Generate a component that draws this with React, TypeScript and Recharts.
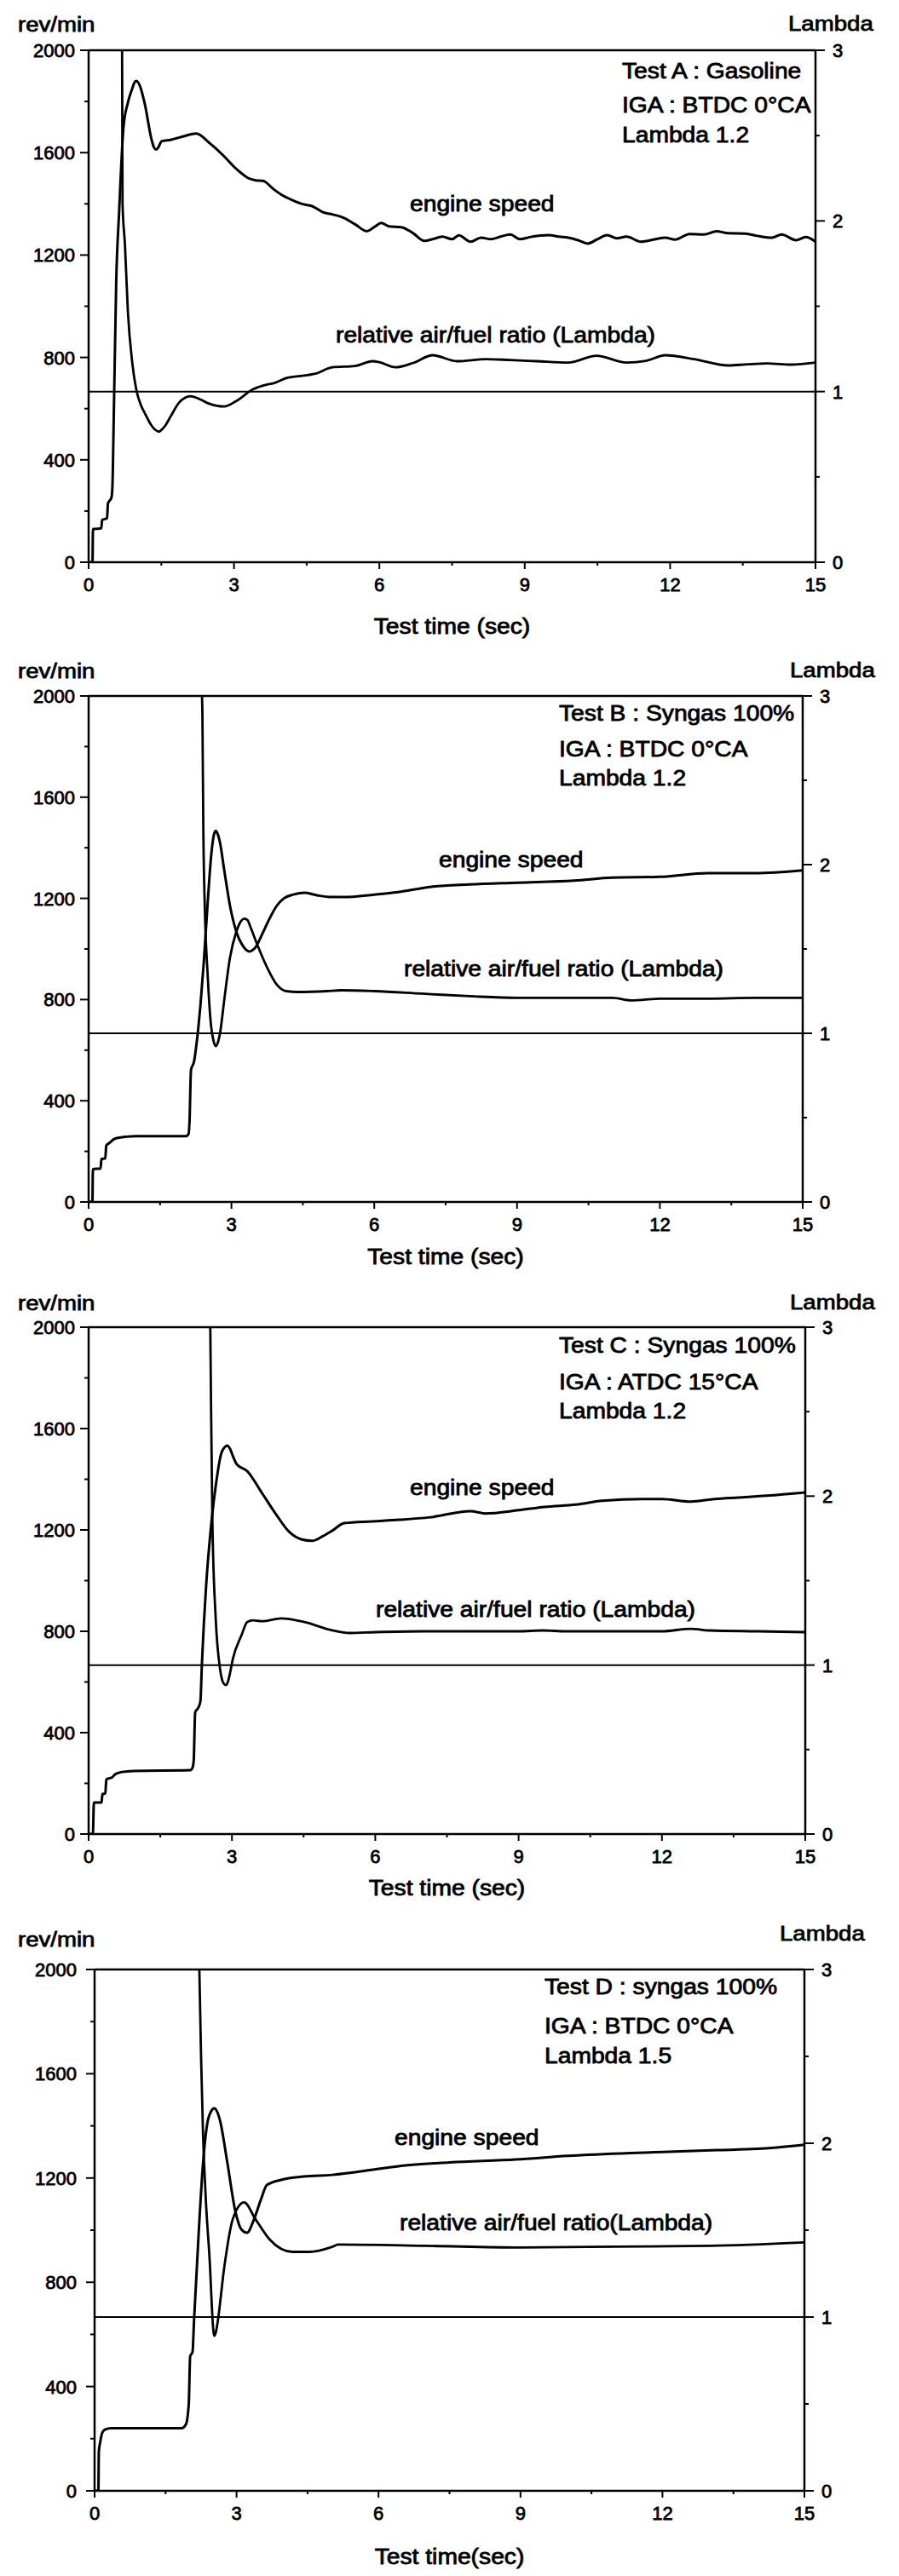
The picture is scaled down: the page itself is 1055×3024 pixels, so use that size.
import React from "react";
import { LineChart, Line, XAxis, YAxis, ReferenceLine } from "recharts";

type Pt = [number, number];

// axis ticks (major + minor)
const timeTicks = [0, 1.5, 3, 4.5, 6, 7.5, 9, 10.5, 12, 13.5, 15];
const rpmTicks = [0, 200, 400, 600, 800, 1000, 1200, 1400, 1600, 1800, 2000];
const lambdaTicks = [0, 0.5, 1, 1.5, 2, 2.5, 3];

// Test A : gasoline  [time (s), value]
const speedA: Pt[] = [
  [0, 0], [0.08, 0], [0.09, 130], [0.26, 132], [0.28, 165], [0.38, 172], [0.4, 230], [0.47, 252],
  [0.49, 290], [0.52, 580], [0.57, 1100], [0.63, 1370], [0.72, 1700], [0.81, 1795], [0.9, 1850],
  [0.94, 1872], [0.98, 1880], [1.02, 1875], [1.06, 1860], [1.16, 1790], [1.3, 1650], [1.35, 1620],
  [1.39, 1612], [1.43, 1618], [1.51, 1645], [1.69, 1650], [1.98, 1665], [2.22, 1675], [2.51, 1635],
  [2.8, 1585], [3.0, 1545], [3.15, 1520], [3.3, 1500], [3.45, 1492], [3.6, 1490], [3.8, 1460],
  [3.97, 1437], [4.2, 1415], [4.44, 1398], [4.6, 1392], [4.85, 1366], [5.0, 1360], [5.27, 1345],
  [5.5, 1320], [5.74, 1293], [5.9, 1310], [6.04, 1325], [6.2, 1312], [6.45, 1309], [6.7, 1285],
  [6.93, 1255], [7.1, 1262], [7.3, 1272], [7.5, 1262], [7.64, 1277], [7.88, 1252], [8.1, 1268],
  [8.3, 1262], [8.5, 1272], [8.7, 1280], [8.9, 1262], [9.1, 1270], [9.5, 1278], [9.7, 1272],
  [9.9, 1268], [10.1, 1258], [10.3, 1245], [10.5, 1262], [10.7, 1278], [10.9, 1265], [11.1, 1272],
  [11.4, 1252], [11.7, 1262], [11.9, 1268], [12.1, 1260], [12.4, 1282], [12.7, 1280], [12.96, 1293],
  [13.2, 1285], [13.55, 1284], [13.8, 1275], [14.1, 1268], [14.3, 1280], [14.6, 1258], [14.8, 1270],
  [15, 1252],
];
const lambdaA: Pt[] = [
  [0.62, 3.6], [0.69, 3.05], [0.7, 2.1], [0.75, 1.86], [0.81, 1.47], [0.9, 1.17], [0.985, 1.01],
  [1.08, 0.92], [1.16, 0.873], [1.3, 0.8], [1.38, 0.775], [1.45, 0.765], [1.52, 0.78], [1.58, 0.8],
  [1.69, 0.853], [1.86, 0.933], [2.1, 0.973], [2.3, 0.955], [2.45, 0.933], [2.8, 0.913], [3.04, 0.943],
  [3.39, 1.013], [3.6, 1.035], [3.86, 1.053], [4.09, 1.08], [4.33, 1.09], [4.68, 1.105], [5.03, 1.142],
  [5.5, 1.15], [5.86, 1.178], [6.0, 1.172], [6.33, 1.142], [6.7, 1.168], [7.1, 1.213], [7.6, 1.178],
  [8.2, 1.19], [8.7, 1.185], [9.25, 1.178], [9.9, 1.17], [10.48, 1.21], [11.1, 1.17], [11.5, 1.18],
  [11.9, 1.213], [12.5, 1.19], [13.2, 1.153], [13.6, 1.16], [14.0, 1.165], [14.5, 1.158], [15, 1.17],
];

// Test B : syngas 100%, BTDC 0
const speedB: Pt[] = [
  [0, 0], [0.08, 0], [0.09, 130], [0.25, 132], [0.27, 170], [0.35, 172], [0.37, 222], [0.45, 235],
  [0.55, 250], [0.8, 258], [1.0, 260], [2.05, 260], [2.1, 270], [2.12, 320], [2.15, 520], [2.22, 560],
  [2.25, 600], [2.3, 680], [2.35, 780], [2.42, 950], [2.5, 1180], [2.58, 1380], [2.63, 1450],
  [2.67, 1467], [2.71, 1455], [2.76, 1420], [2.85, 1310], [2.97, 1170], [3.1, 1070], [3.25, 1010],
  [3.32, 995], [3.38, 990], [3.44, 995], [3.5, 1005], [3.65, 1060], [3.8, 1120], [3.95, 1170],
  [4.1, 1200], [4.3, 1215], [4.55, 1222], [4.8, 1212], [5.1, 1205], [5.37, 1205], [6.0, 1215],
  [6.5, 1225], [7.2, 1246], [8.0, 1255], [9.0, 1262], [10.2, 1270], [11.0, 1282], [12.0, 1285],
  [13.0, 1300], [14.0, 1300], [15, 1311],
];
const lambdaB: Pt[] = [
  [2.37, 3.6], [2.38, 3.05], [2.39, 2.9], [2.41, 2.2], [2.44, 1.75], [2.5, 1.35], [2.57, 1.05],
  [2.62, 0.96], [2.67, 0.924], [2.72, 0.95], [2.76, 1.0], [2.85, 1.2], [2.97, 1.45], [3.1, 1.6],
  [3.2, 1.665], [3.27, 1.68], [3.34, 1.67], [3.4, 1.63], [3.55, 1.52], [3.75, 1.39], [3.95, 1.29],
  [4.15, 1.25], [4.4, 1.245], [5.0, 1.25], [5.3, 1.255], [6.0, 1.25], [7.0, 1.235], [8.0, 1.22],
  [9.0, 1.21], [10.0, 1.21], [11.0, 1.21], [11.4, 1.195], [12.0, 1.205], [13.0, 1.205], [14.0, 1.21],
  [15, 1.21],
];

// Test C : syngas 100%, ATDC 15
const speedC: Pt[] = [
  [0, 0], [0.09, 0], [0.11, 124], [0.27, 124], [0.29, 158], [0.35, 160], [0.37, 215], [0.5, 225],
  [0.55, 235], [0.7, 245], [0.94, 249], [2.13, 252], [2.18, 265], [2.2, 290], [2.23, 480], [2.3, 500],
  [2.34, 524], [2.37, 666], [2.46, 981], [2.55, 1190], [2.66, 1373], [2.78, 1504], [2.84, 1525],
  [2.9, 1533], [2.96, 1520], [3.02, 1491], [3.1, 1459], [3.32, 1432], [3.62, 1348], [3.9, 1268],
  [4.21, 1190], [4.45, 1163], [4.68, 1157], [4.9, 1175], [5.1, 1197], [5.35, 1227], [5.94, 1234],
  [6.5, 1240], [7.15, 1250], [7.99, 1274], [8.3, 1265], [9.0, 1278], [9.55, 1291], [10.2, 1300],
  [10.75, 1315], [11.6, 1322], [12.0, 1322], [12.6, 1312], [13.1, 1322], [13.6, 1328], [14.2, 1335],
  [15, 1348],
];
const lambdaC: Pt[] = [
  [2.5, 3.6], [2.545, 3.05], [2.56, 2.6], [2.59, 1.863], [2.66, 1.276], [2.75, 0.98], [2.81, 0.9],
  [2.87, 0.882], [2.92, 0.905], [2.95, 0.94], [3.02, 1.038], [3.2, 1.177], [3.32, 1.255], [3.44, 1.265],
  [3.62, 1.26], [4.03, 1.276], [4.5, 1.256], [5.1, 1.206], [5.46, 1.19], [6.0, 1.195], [7.0, 1.2],
  [8.0, 1.2], [9.0, 1.2], [9.5, 1.205], [10.0, 1.2], [11.0, 1.2], [12.0, 1.2], [12.6, 1.215],
  [13.0, 1.205], [14.0, 1.2], [15, 1.195],
];

// Test D : syngas 100%, lambda 1.5
const speedD: Pt[] = [
  [0, 0], [0.08, 0], [0.09, 150], [0.12, 188], [0.16, 222], [0.22, 235], [0.35, 240], [1.84, 240],
  [1.93, 255], [1.99, 333], [2.02, 516], [2.07, 533], [2.1, 647], [2.2, 990], [2.29, 1252],
  [2.38, 1408], [2.46, 1455], [2.53, 1467], [2.6, 1450], [2.65, 1421], [2.8, 1265], [2.98, 1068],
  [3.1, 1003], [3.22, 990], [3.37, 1042], [3.52, 1120], [3.64, 1173], [3.94, 1193], [4.42, 1206],
  [5.02, 1212], [6.0, 1235], [6.48, 1247], [7.5, 1260], [8.9, 1271], [10.0, 1285], [11.33, 1296],
  [12.0, 1300], [13.15, 1307], [14.0, 1312], [15, 1328],
];
const lambdaD: Pt[] = [
  [2.18, 3.6], [2.21, 3.05], [2.25, 2.5], [2.29, 2.07], [2.35, 1.68], [2.44, 1.286], [2.48, 1.05],
  [2.51, 0.92], [2.53, 0.892], [2.56, 0.91], [2.6, 0.97], [2.74, 1.286], [2.92, 1.563], [3.16, 1.66],
  [3.4, 1.563], [3.7, 1.446], [4.18, 1.375], [4.54, 1.375], [5.02, 1.404], [5.15, 1.417], [7.0, 1.41],
  [9.0, 1.4], [11.0, 1.405], [13.0, 1.41], [15, 1.43],
];

const infoA = ["Test A : Gasoline", "IGA : BTDC 0°CA", "Lambda 1.2"];
const infoB = ["Test B : Syngas 100%", "IGA : BTDC 0°CA", "Lambda 1.2"];
const infoC = ["Test C : Syngas 100%", "IGA : ATDC 15°CA", "Lambda 1.2"];
const infoD = ["Test D : syngas 100%", "IGA : BTDC 0°CA", "Lambda 1.5"];

const FONT = "'Liberation Sans', Arial, Helvetica, sans-serif";
const W = 1055;
const TOP = 59;

function Txt({ x, y, size, sx = 1, anchor = "start", children }: any) {
  return (
    <text
      transform={`translate(${x},${y}) scale(${sx},1)`}
      fontFamily={FONT}
      fontSize={size}
      textAnchor={anchor}
      fill="#000"
      stroke="#000"
      strokeWidth={0.8}
    >
      {children}
    </text>
  );
}

const toRows = (pts: Pt[]) => pts.map(([t, v]) => ({ t, v }));

function Panel(p: any) {
  const { T, H, L, R, speed, lambda, info, infoX, infoY, speedLbl, lamLbl, lamText, revY, lamY, lamX, titleDy, title, gap } = p;
  const height = TOP + H + 100;
  const B = TOP + H;
  const rel = (v: number) => TOP + v; // offset from plot top, chart coords

  const xTick = ({ payload }: any) => {
    const v = payload.value;
    const x = payload.coordinate;
    const major = v % 3 === 0;
    return (
      <g>
        <line x1={x} x2={x} y1={B} y2={B + (major ? 8 : 4)} stroke="#000" strokeWidth={2} />
        {major && <Txt x={x} y={B + 34} size={22} anchor="middle">{v}</Txt>}
      </g>
    );
  };
  const leftTick = ({ payload }: any) => {
    const v = payload.value;
    const y = payload.coordinate;
    const major = v % 400 === 0;
    return (
      <g>
        <line x1={L - (major ? 10 : 5)} x2={L} y1={y} y2={y} stroke="#000" strokeWidth={2} />
        {major && <Txt x={L - gap} y={y + 8} size={22} anchor="end">{v}</Txt>}
      </g>
    );
  };
  const rightTick = ({ payload }: any) => {
    const v = payload.value;
    const y = payload.coordinate;
    const major = Number.isInteger(v);
    return (
      <g>
        <line x1={R} x2={R + (major ? 11 : 5)} y1={y} y2={y} stroke="#000" strokeWidth={2} />
        {major && <Txt x={R + 20} y={y + 8} size={22}>{v}</Txt>}
      </g>
    );
  };

  return (
    <div style={{ position: "absolute", left: 0, top: T - TOP, width: W, height }}>
      <LineChart width={W} height={height} margin={{ top: TOP, right: 0, bottom: 0, left: 0 }}>
        <XAxis
          xAxisId="x"
          type="number"
          dataKey="t"
          domain={[0, 15]}
          ticks={timeTicks}
          interval={0}
          allowDataOverflow
          height={100}
          axisLine={{ stroke: "#000", strokeWidth: 2.5 }}
          tickLine={false}
          tick={xTick}
        />
        <YAxis
          yAxisId="rpm"
          orientation="left"
          type="number"
          width={L}
          domain={[0, 2000]}
          ticks={rpmTicks}
          interval={0}
          allowDataOverflow
          axisLine={{ stroke: "#000", strokeWidth: 2.5 }}
          tickLine={false}
          tick={leftTick}
        />
        <YAxis
          yAxisId="lam"
          orientation="right"
          type="number"
          width={W - R}
          domain={[0, 3]}
          ticks={lambdaTicks}
          interval={0}
          allowDataOverflow
          axisLine={{ stroke: "#000", strokeWidth: 2.5 }}
          tickLine={false}
          tick={rightTick}
        />
        <ReferenceLine xAxisId="x" yAxisId="rpm" y={2000} stroke="#000" strokeWidth={2.5} />
        <ReferenceLine xAxisId="x" yAxisId="lam" y={1} stroke="#000" strokeWidth={2} />
        <Line
          xAxisId="x"
          yAxisId="rpm"
          data={toRows(speed)}
          dataKey="v"
          type="monotone"
          stroke="#000"
          strokeWidth={3}
          dot={false}
          isAnimationActive={false}
        />
        <Line
          xAxisId="x"
          yAxisId="lam"
          data={toRows(lambda)}
          dataKey="v"
          type="monotone"
          stroke="#000"
          strokeWidth={2.8}
          dot={false}
          isAnimationActive={false}
        />
      </LineChart>
      <svg
        width={W}
        height={height}
        style={{ position: "absolute", left: 0, top: 0, pointerEvents: "none" }}
      >
        <Txt x={21} y={rel(revY)} size={24} sx={1.15}>rev/min</Txt>
        <Txt x={lamX} y={rel(lamY)} size={24} sx={1.15}>Lambda</Txt>
        {info.map((s: string, i: number) => (
          <Txt key={i} x={infoX} y={rel(infoY[i])} size={25} sx={1.13}>{s}</Txt>
        ))}
        <Txt x={speedLbl[0]} y={rel(speedLbl[1])} size={25} sx={1.13}>engine speed</Txt>
        <Txt x={lamLbl[0]} y={rel(lamLbl[1])} size={25} sx={1.13}>{lamText}</Txt>
        <Txt x={(L + R) / 2} y={B + titleDy} size={25} sx={1.13} anchor="middle">{title}</Txt>
      </svg>
    </div>
  );
}

export default function App() {
  return (
    <div style={{ position: "absolute", left: 0, top: 0, width: W, height: 3024, background: "#fff" }}>
      <Panel
        T={59} H={601} L={104} R={957} gap={16}
        speed={speedA} lambda={lambdaA} info={infoA} infoX={730} infoY={[33, 73, 108]}
        speedLbl={[481, 189]} lamLbl={[394, 343]} lamText="relative air/fuel ratio (Lambda)"
        revY={-22} lamY={-23} lamX={925} titleDy={84} title="Test time (sec)"
      />
      <Panel
        T={817} H={594} L={104} R={942} gap={16}
        speed={speedB} lambda={lambdaB} info={infoB} infoX={656} infoY={[29, 71, 105]}
        speedLbl={[515, 201]} lamLbl={[474, 329]} lamText="relative air/fuel ratio (Lambda)"
        revY={-21} lamY={-22} lamX={927} titleDy={73} title="Test time (sec)"
      />
      <Panel
        T={1558} H={595} L={104} R={945} gap={16}
        speed={speedC} lambda={lambdaC} info={infoC} infoX={656} infoY={[30, 73, 107]}
        speedLbl={[481, 197]} lamLbl={[441, 340]} lamText="relative air/fuel ratio (Lambda)"
        revY={-20} lamY={-21} lamX={927} titleDy={72} title="Test time (sec)"
      />
      <Panel
        T={2312} H={612} L={111} R={944} gap={21}
        speed={speedD} lambda={lambdaD} info={infoD} infoX={639} infoY={[29, 75, 110]}
        speedLbl={[463, 206]} lamLbl={[469, 306]} lamText="relative air/fuel ratio(Lambda)"
        revY={-27} lamY={-34} lamX={915} titleDy={86} title="Test time(sec)"
      />
    </div>
  );
}
